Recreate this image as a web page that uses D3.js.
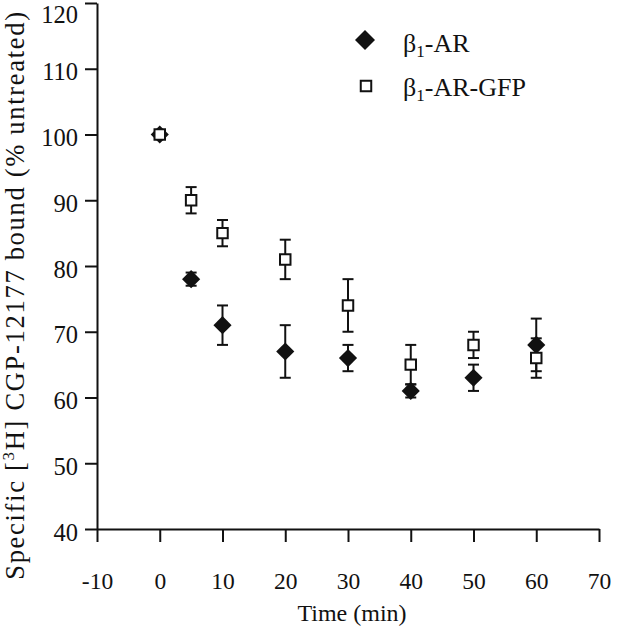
<!DOCTYPE html>
<html>
<head>
<meta charset="utf-8">
<script src="https://cdn.jsdelivr.net/npm/d3@7"></script>
<style>
  html, body { margin: 0; padding: 0; background: #fff; }
  svg { display: block; }
  text { font-family: "Liberation Serif", "Times New Roman", serif; fill: #111; }
</style>
</head>
<body>
<svg id="chart" width="640" height="633"></svg>
<script>
// ---- data ----
const times = [0, 5, 10, 20, 30, 40, 50, 60];
const arValues = [100, 78, 71, 67, 66, 61, 63, 68];
const arErrors = [0.5, 1, 3, 4, 2, 1, 2, 4];
const gfpValues = [100, 90, 85, 81, 74, 65, 68, 66];
const gfpErrors = [0.5, 2, 2, 3, 4, 3, 2, 3];
const xTicks = [-10, 0, 10, 20, 30, 40, 50, 60, 70];
const yTicks = [40, 50, 60, 70, 80, 90, 100, 110, 120];
const seriesNames = ["β1-AR", "β1-AR-GFP"];

const svg = d3.select("#chart");
const x = d3.scaleLinear().domain([-10, 70]).range([97, 599]);
const y = d3.scaleLinear().domain([40, 120]).range([529, 3]);
const ink = "#111";

// axes
const xAxis = svg.append("g").attr("transform", `translate(0,${y(40)})`)
  .call(d3.axisBottom(x).tickValues(xTicks).tickSize(13).tickSizeOuter(0).tickPadding(30).tickFormat(d => String(d)));
const yAxis = svg.append("g").attr("transform", `translate(${x(-10)},0)`)
  .call(d3.axisLeft(y).tickValues(yTicks).tickSize(12).tickSizeOuter(0).tickPadding(7).tickFormat(d => String(d)));
[xAxis, yAxis].forEach(g => {
  g.select(".domain").attr("stroke", ink).attr("stroke-width", 2);
  g.selectAll(".tick line").attr("stroke", ink).attr("stroke-width", 2);
  g.selectAll(".tick text").attr("font-family", "Liberation Serif").attr("fill", ink);
});
xAxis.selectAll(".tick text").attr("font-size", 23.5);
yAxis.selectAll(".tick text").attr("font-size", 24.5).attr("dy", d => d === 120 ? "0.8em" : "0.45em");

// axis titles
svg.append("text")
  .attr("x", (x(-10) + x(70)) / 2 + 4).attr("y", 621)
  .attr("text-anchor", "middle").attr("font-size", 24)
  .text("Time (min)");

const yt = svg.append("text")
  .attr("transform", `translate(24,295) rotate(-90)`)
  .attr("text-anchor", "middle").attr("font-size", 26.5)
  .attr("letter-spacing", 1.7);
yt.append("tspan").text("Specific [");
yt.append("tspan").attr("font-size", 17).attr("dy", -10).text("3");
yt.append("tspan").attr("dy", 10).text("H] CGP-12177 bound (% untreated)");

// error bars
function errorBars(vals, errs) {
  const g = svg.append("g").attr("stroke", ink).attr("stroke-width", 2);
  times.forEach((t, i) => {
    const cx = x(t), top = y(vals[i] + errs[i]), bot = y(vals[i] - errs[i]);
    g.append("line").attr("x1", cx).attr("x2", cx).attr("y1", top).attr("y2", bot);
    g.append("line").attr("x1", cx - 5.5).attr("x2", cx + 5.5).attr("y1", top).attr("y2", top);
    g.append("line").attr("x1", cx - 5.5).attr("x2", cx + 5.5).attr("y1", bot).attr("y2", bot);
  });
}
errorBars(gfpValues, gfpErrors);
errorBars(arValues, arErrors);

const diamond = d3.symbol(d3.symbolSquare, 165)();
const square = d3.symbol(d3.symbolSquare, 110)();

// β1-AR diamonds
svg.append("g").selectAll("path").data(times).join("path")
  .attr("d", diamond)
  .attr("transform", (t, i) => `translate(${x(t)},${y(arValues[i])}) rotate(45)`)
  .attr("fill", ink);

// β1-AR-GFP squares
svg.append("g").selectAll("path").data(times).join("path")
  .attr("d", square)
  .attr("transform", (t, i) => `translate(${x(t)},${y(gfpValues[i])})`)
  .attr("fill", "#fff").attr("stroke", ink).attr("stroke-width", 2);

// legend
const legend = svg.append("g");
legend.append("path").attr("d", d3.symbol(d3.symbolSquare, 200)())
  .attr("transform", "translate(365,40) rotate(45)").attr("fill", ink);
legend.append("path").attr("d", d3.symbol(d3.symbolSquare, 110)())
  .attr("transform", "translate(366,86)").attr("fill", "#fff").attr("stroke", ink).attr("stroke-width", 2);
[[52, seriesNames[0]], [96, seriesNames[1]]].forEach(([by, name]) => {
  const t = legend.append("text").attr("x", 403).attr("y", by).attr("font-size", 26);
  t.append("tspan").text(name[0]);
  t.append("tspan").attr("font-size", 17).attr("dy", 5).text(name[1]);
  t.append("tspan").attr("dy", -5).text(name.slice(2));
});
</script>
</body>
</html>
